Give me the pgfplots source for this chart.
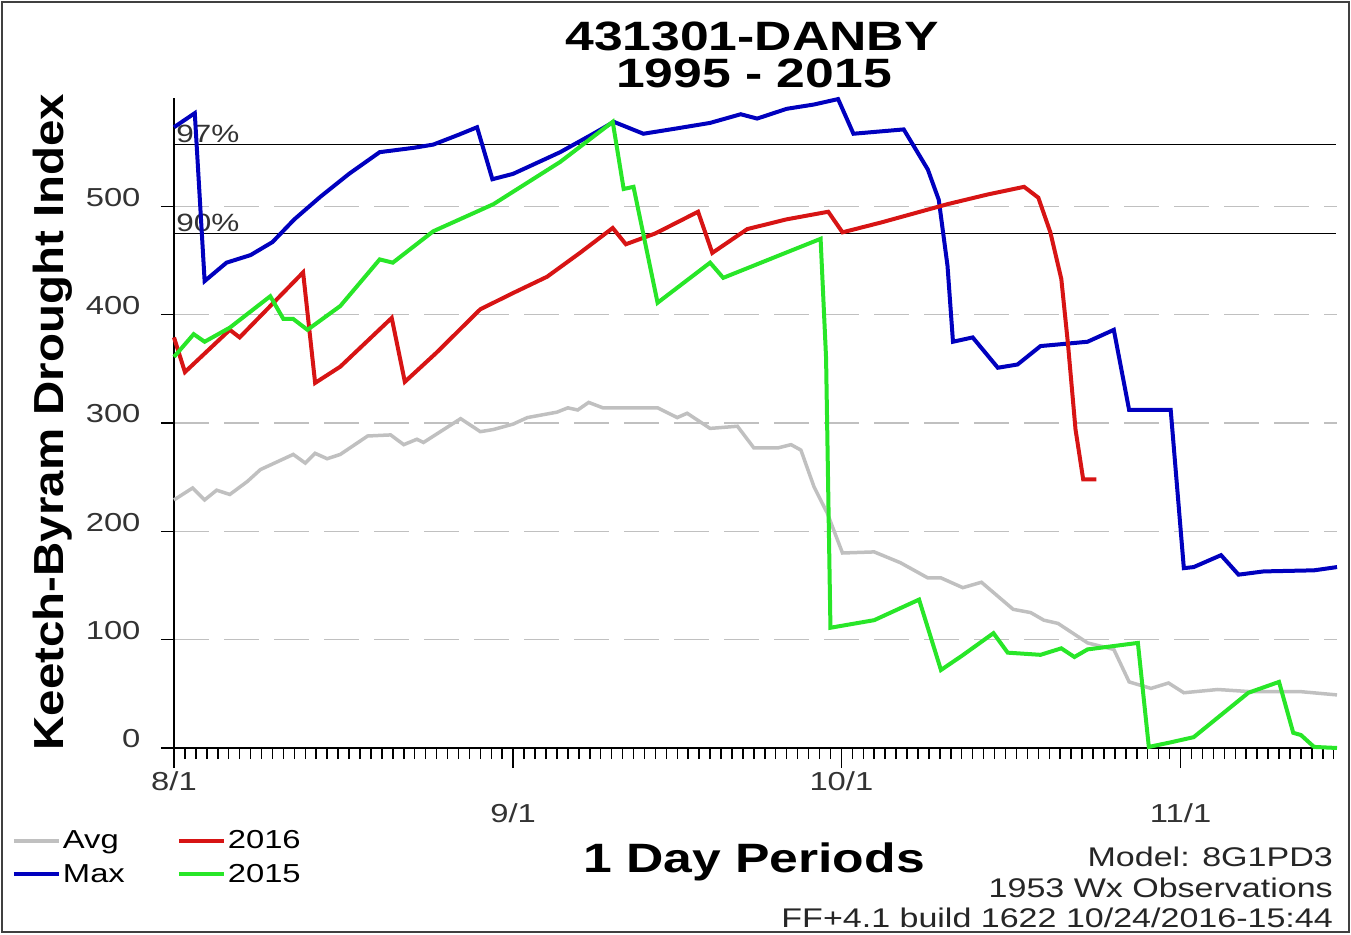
\documentclass[border=0pt]{standalone}
\usepackage{fontspec}
\usepackage{pgfplots}
\pgfplotsset{compat=1.18}
\newfontfamily\txt{Liberation Sans}[FakeStretch=1.26]
\newfontfamily\ylab{Liberation Sans}[FakeStretch=1.13]
\definecolor{cavg}{RGB}{192,192,192}
\definecolor{cmax}{RGB}{0,0,190}
\definecolor{c16}{RGB}{215,20,20}
\definecolor{c15}{RGB}{40,230,40}
\begin{document}
\begin{tikzpicture}[x=1pt,y=1pt]
\useasboundingbox (0,0) rectangle (1351,934);
\draw[line width=2pt, black!75] (2,2) rectangle (1349,932);
\begin{axis}[
  at={(174pt,186pt)}, anchor=south west,
  scale only axis, width=1163pt, height=650pt,
  xmin=0, xmax=106.3, ymin=0, ymax=600,
  axis x line*=bottom, axis y line*=left,
  axis line style={line width=2.5pt,-},
  xtick={0,61}, xticklabels={8/1,10/1},
  extra x ticks={31,92}, extra x tick labels={9/1,11/1},
  extra x tick style={xticklabel style={yshift=-32pt}},
  minor xtick={1,2,...,106},
  ytick={0,100,200,300,400,500},
  tick align=outside,
  major tick length=20pt, minor tick length=11pt,
  ytick style={/pgfplots/major tick length=13pt},
  every tick/.style={black, line width=1.5pt},
  /pgf/number format/assume math mode=true,
  tick label style={font=\txt\fontsize{26}{30}\selectfont, text=black!80},
  yticklabel style={xshift=-10pt, yshift=9pt},
  ymajorgrids,
  grid style={cavg, line width=1.5pt, dash pattern=on 35pt off 15pt},
  clip=false,
  legend columns=2,
  legend style={at={(-0.1395,-0.124)}, anchor=north west, draw=none, fill=none,
    font=\txt\fontsize{26}{30}\selectfont, inner sep=0pt, row sep=10pt,
    /tikz/every even column/.append style={column sep=50pt}},
  legend cell align=left,
  legend image code/.code={\draw[#1, line width=4pt] (0pt,0pt) -- (45pt,0pt);},
]
\addplot[black, line width=1.5pt, forget plot] coordinates {(0,557) (106.2,557)};
\addplot[black, line width=1.5pt, forget plot] coordinates {(0,475) (106.2,475)};
\node[anchor=base west, font=\txt\fontsize{25}{30}\selectfont, text=black!80, inner sep=0pt] at (axis cs:0.2,559) {97\%};
\node[anchor=base west, font=\txt\fontsize{25}{30}\selectfont, text=black!80, inner sep=0pt] at (axis cs:0.2,477) {90\%};
% Avg
\addplot[cavg, line width=3.5pt, forget plot] coordinates {
(0,229) (1.7,240) (2.8,229) (3.9,238) (5.1,234) (6.7,246) (7.9,257) (10.9,271) (12,263) (12.9,272)
(14,267) (15.2,271) (17.7,288) (19.8,289) (21,280) (22.2,285) (22.8,282) (26.2,304) (28,292) (29.2,294)
(31,299) (32.3,305) (35,310) (36,314) (36.9,312) (37.9,319) (39.2,314) (44.2,314) (46,305) (46.9,309)
(49,295) (51.5,297) (53,277) (55.2,277) (56.4,280) (57.3,275) (58.5,241) (59.7,217) (61.1,180) (64,181)
(66.4,171) (68.9,157) (70.1,157) (72.1,148) (73.8,153) (76.7,128) (78.3,125) (79.5,118) (80.8,115) (83.5,97)
(85.9,91) (87.3,61) (89.3,55) (90.9,60) (92.3,51) (95.4,54) (98.4,52) (103,52) (106.3,49)};
% Max
\addplot[cmax, line width=4pt, forget plot] coordinates {
(0,573) (1.9,586) (2.8,431) (4.8,448) (7,455) (9,467) (11,488) (13.4,509) (16,530) (18.8,550)
(21.9,554) (23.7,557) (26,566) (27.7,573) (29.1,525) (31,530) (35.3,550) (38.5,568) (40.2,578) (42.9,567)
(46,572) (49,577) (51.8,585) (53.3,581) (56,590) (58.5,594) (60.7,599) (62.1,567) (66.7,571) (68.9,534)
(69.9,506) (70.7,445) (71.2,375) (73,379) (75.3,351) (77.1,354) (79.2,371) (83.5,375) (85.9,386) (87.3,312)
(91.1,312) (92.3,166) (93.2,167) (95.7,178) (97.3,160) (99.6,163) (104.2,164) (106.3,167)};
% 2016
\addplot[c16, line width=4pt, forget plot] coordinates {
(0,379) (1,347) (5.1,386) (6,379) (11.8,439) (12.9,337) (15.2,352) (19.9,397) (21.1,338) (24,365)
(28,405) (31,420) (34.1,435) (37.1,457) (40.1,480) (41.3,465) (44,475) (47.9,495) (49.2,457) (52.4,479)
(56,488) (59.8,495) (61.1,476) (64.6,485) (70.7,502) (74.4,511) (77.7,518) (79,508) (80.1,476) (81.1,433)
(81.7,374) (82.4,294) (83.1,248) (84.3,248)};
% 2015
\addplot[c15, line width=4pt, forget plot] coordinates {
(0,361) (1.8,382) (2.8,375) (5.1,388) (8.8,417) (10,396) (10.9,396) (12.2,386) (15.2,408) (18.8,451)
(20,448) (23.7,477) (29.2,502) (35.3,541) (40.1,578) (41.1,516) (42,518) (44.2,411) (49,448) (50.2,434)
(59.1,470) (59.6,360) (60,111) (64,118) (68.1,137) (70.1,72) (72,85) (74.9,106) (76.2,88) (79.2,86)
(81.1,92) (82.3,84) (83.5,91) (88.1,97) (89.1,1) (91,5) (93.2,10) (98.2,51) (101,61) (102.3,14)
(103,12) (104.2,1) (106.3,0)};
\addlegendimage{cavg}\addlegendentry{Avg}
\addlegendimage{c16}\addlegendentry{2016}
\addlegendimage{cmax}\addlegendentry{Max}
\addlegendimage{c15}\addlegendentry{2015}
\end{axis}
\node[anchor=base, font=\txt\bfseries\fontsize{41}{46}\selectfont, inner sep=0pt] at (752,883) {431301-DANBY};
\node[anchor=base, font=\txt\bfseries\fontsize{41}{46}\selectfont, inner sep=0pt] at (754,846) {1995 - 2015};
\node[anchor=base, rotate=90, font=\ylab\bfseries\fontsize{42}{46}\selectfont, inner sep=0pt] at (63,512) {Keetch-Byram Drought Index};
\node[anchor=base, font=\txt\bfseries\fontsize{41}{46}\selectfont, inner sep=0pt] at (754,62) {1 Day Periods};
\node[anchor=base east, font=\txt\fontsize{27}{30}\selectfont, text=black!85, inner sep=0pt] at (1333,68) {Model: 8G1PD3};
\node[anchor=base east, font=\txt\fontsize{27}{30}\selectfont, text=black!85, inner sep=0pt] at (1333,37) {1953 Wx Observations};
\node[anchor=base east, font=\txt\fontsize{27}{30}\selectfont, text=black!85, inner sep=0pt] at (1333,7) {FF+4.1 build 1622 10/24/2016-15:44};
\end{tikzpicture}
\end{document}
